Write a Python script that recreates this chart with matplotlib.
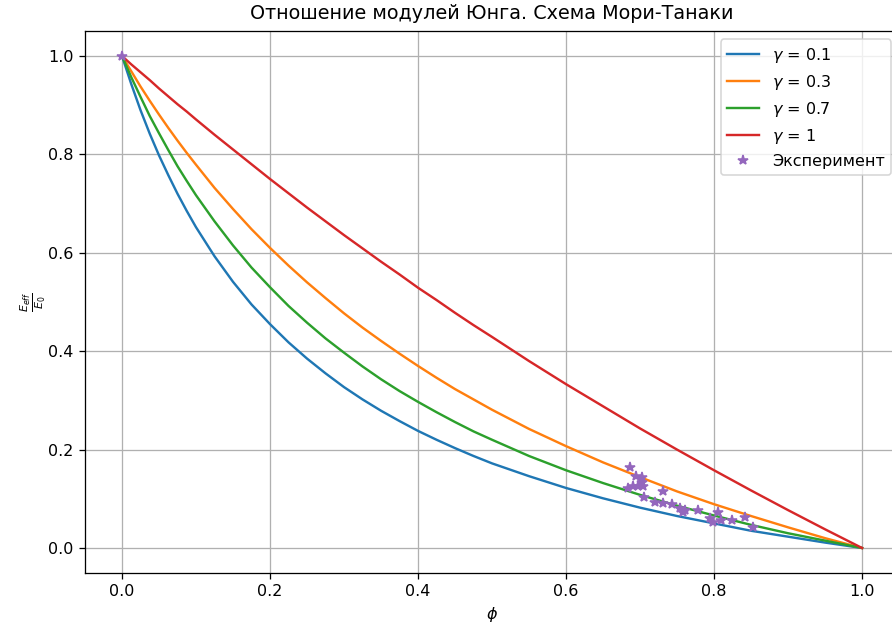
import numpy as np
import matplotlib.pyplot as plt

# values
phi = [0.0, 0.0125, 0.025, 0.0375, 0.05, 0.0625, 0.075, 0.0875, 0.1,
       0.125, 0.15, 0.175, 0.2, 0.225, 0.25, 0.275, 0.3, 0.325, 0.35, 0.375, 0.4, 0.425, 0.45, 0.475, 0.5,
       0.55, 0.6, 0.65, 0.7, 0.75, 0.8, 0.85, 0.9, 0.95, 1.0]
e_01 = [1.0, 0.943, 0.890, 0.842, 0.798, 0.758, 0.720, 0.685, 0.652,
        0.593, 0.541, 0.495, 0.455, 0.418, 0.385, 0.355, 0.327, 0.302, 0.279, 0.258, 0.238, 0.220, 0.203, 0.187, 0.172,
        0.146, 0.122, 0.101, 0.082, 0.065, 0.050, 0.035, 0.023, 0.011, 0.0]
e_03 = [1.0, 0.969, 0.938, 0.909, 0.881, 0.854, 0.828, 0.803, 0.779,
        0.732, 0.689, 0.648, 0.610, 0.574, 0.540, 0.508, 0.477, 0.448, 0.421, 0.395, 0.370, 0.346, 0.323, 0.302, 0.281,
        0.242, 0.207, 0.174, 0.144, 0.115, 0.089, 0.065, 0.042, 0.020, 0.0]
e_07 = [1.0, 0.957, 0.917, 0.878, 0.843, 0.809, 0.776, 0.746, 0.717,
        0.664, 0.615, 0.570, 0.530, 0.492, 0.458, 0.426, 0.397, 0.369, 0.343, 0.319, 0.297, 0.276, 0.256, 0.237, 0.220,
        0.187, 0.158, 0.132, 0.108, 0.086, 0.066, 0.047, 0.030, 0.015, 0.0]
e_1 = [1.0, 0.983, 0.967, 0.951, 0.934, 0.918, 0.902, 0.887, 0.871,
       0.840, 0.810, 0.780, 0.750, 0.721, 0.692, 0.664, 0.636, 0.609, 0.582, 0.556, 0.529, 0.504, 0.478, 0.453, 0.429,
       0.380, 0.333, 0.288, 0.243, 0.200, 0.158, 0.117, 0.077, 0.038, 0.0]

# experiment
phi_exp = [0.0, 0.686, 0.695, 0.703, 0.684, 0.691, 0.697, 0.704, 0.702, 0.731, 0.706, 0.720,
           0.731, 0.743, 0.754, 0.761, 0.779, 0.758, 0.794, 0.806, 0.810, 0.824, 0.842, 0.853, 0.799]
e_exp = [1.0, 0.164, 0.146, 0.145, 0.121, 0.125, 0.126, 0.125, 0.135, 0.116, 0.104, 0.094,
         0.092, 0.089, 0.081, 0.077, 0.077, 0.074, 0.060, 0.074, 0.057, 0.057, 0.062, 0.042, 0.053]

fig = plt.figure(figsize=(892/115, 632/115), dpi=115)
ax = fig.add_axes([0.0953, 0.094, 0.9126, 0.8563])

ax.plot(phi, e_01, label=r"$\gamma$ = 0.1")
ax.plot(phi, e_03, label=r"$\gamma$ = 0.3")
ax.plot(phi, e_07, label=r"$\gamma$ = 0.7")
ax.plot(phi, e_1, label=r"$\gamma$ = 1")
ax.plot(phi_exp, e_exp, '*', color='tab:purple', label="Эксперимент")

ax.set_xlabel(r"$\phi$")
ax.set_ylabel(r"$\frac{E_{eff}}{E_0}$", labelpad=0)
ax.set_title("Отношение модулей Юнга. Схема Мори-Танаки", pad=8)
ax.grid(True)
ax.spines['right'].set_visible(False)
ax.legend(loc='upper right')

fig.savefig("out.png", dpi=115)
